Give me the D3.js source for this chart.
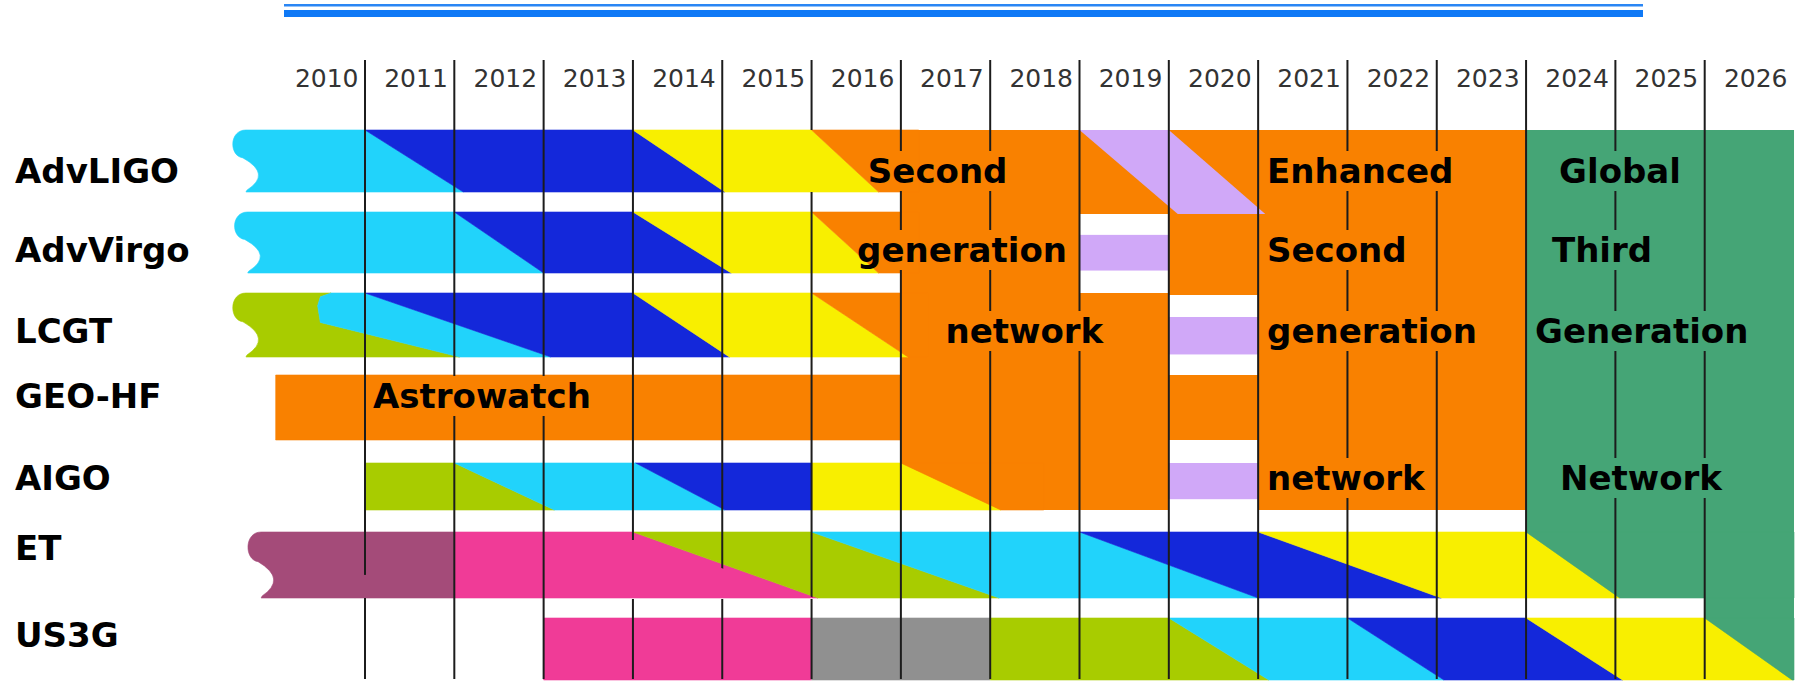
<!DOCTYPE html>
<html><head><meta charset="utf-8">
<script src="https://cdn.jsdelivr.net/npm/d3@7"></script>
<style>html,body{margin:0;padding:0;background:#fff;} svg{display:block;}</style>
</head><body>
<svg id="chart" width="1803" height="683"></svg>
<script>
// ---------------- data ----------------
const years = [2010,2011,2012,2013,2014,2015,2016,2017,2018,2019,2020,2021,2022,2023,2024,2025,2026];
const rows = ["AdvLIGO","AdvVirgo","LCGT","GEO-HF","AIGO","ET","US3G"];
const rowStart = [2009.51, 2009.53, 2009.51, 2010.0, 2011.0, 2009.68, 2013.0];
const rowEnd   = [2017.2, 2017.2, 2017.3, 2017.0, 2018.6, 2027.0, 2027.0];
const rowScroll = [true, true, true, false, false, true, false];

// phase colours per row, and the switches between them ([year at top, year at bottom] or polyline [[year, depth]...])
const advLigoColors  = ["cyan","blue","yellow","orange"];
const advLigoSwitch  = [[2011.0,2012.1],[2014.0,2015.03],[2016.0,2016.75]];
const advVirgoColors = ["cyan","blue","yellow","orange"];
const advVirgoSwitch = [[2012.0,2013.0],[2014.0,2015.1],[2016.0,2016.75]];
const lcgtColors     = ["lime","cyan","blue","yellow","orange"];
const lcgtSwitch     = [[[2010.62,0],[2010.5,0.06],[2010.47,0.2],[2010.5,0.46],[2012.06,1]],[2011.0,2013.08],[2014.0,2015.08],[2016.0,2017.08]];
const geoColors      = ["orange"];
const geoSwitch      = [];
const aigoColors     = ["lime","cyan","blue","yellow","orange"];
const aigoSwitch     = [[2012.0,2013.12],[2014.03,2015.03],[2016.0,2016.0],[2017.0,2018.12]];
const etColors       = ["mauve","pink","lime","cyan","blue","yellow","green"];
const etSwitch       = [[2012.0,2012.0],[2014.0,2016.07],[2016.0,2018.1],[2019.0,2021.0],[2021.0,2023.05],[2024.0,2025.05]];
const us3gColors     = ["pink","gray","lime","cyan","blue","yellow","green"];
const us3gSwitch     = [[2016.0,2016.0],[2018.0,2018.0],[2020.0,2021.12],[2022.0,2023.08],[2024.0,2025.08],[2026.0,2026.98]];

// network blocks
const blockColor = ["orange","green","green"];
const blockFrom  = [2017, 2024, 2026];
const blockTo    = [2024, 2027, 2027];
const blockTopRow = ["AdvLIGO","AdvLIGO","ET"];
const blockBotRow = ["AIGO","ET","US3G"];

// AdvLIGO upgrade (purple) and pauses
const shiftTop = [2019.0, 2020.0];
const shiftBottom = [2020.1, 2021.08];
const pauseRows  = ["AdvVirgo","LCGT","AIGO"];
const pauseYears = [2019, 2020, 2020];

// block texts
const blockLabels    = ["Second","generation","network","Astrowatch","Enhanced","Second","generation","network","Global","Third","Generation","Network"];
const blockLabelRow  = ["AdvLIGO","AdvVirgo","LCGT","GEO-HF","AdvLIGO","AdvVirgo","LCGT","AIGO","AdvLIGO","AdvVirgo","LCGT","AIGO"];
const blockLabelYear = [2016.63,2016.51,2017.5,2011.09,2021.1,2021.1,2021.1,2021.1,2024.37,2024.29,2024.1,2024.38];

// ---------------- style / layout ----------------
const palette = {cyan:"#21d3fb", blue:"#1428da", yellow:"#f8ef00", orange:"#f98100", purple:"#d0a8f8",
  lime:"#a8cc00", mauve:"#a44b79", pink:"#f03b97", gray:"#909090", green:"#45a576"};
const x = d3.scaleLinear().domain([2011, 2026]).range([365, 1704.7]);
const rowTop  = d3.scaleOrdinal().domain(rows).range([130,212,293,375,463,532,618]);
const rowBot  = d3.scaleOrdinal().domain(rows).range([192,273,357,440,510,598,680]);
const rowBase = d3.scaleOrdinal().domain(rows).range([183,262,343,408,490,560,647]);
const boldFont = "'DejaVu Sans', Verdana, sans-serif";

const svg = d3.select("#chart");
const defs = svg.append("defs");

// header double rule
svg.append("rect").attr("x",284).attr("y",4).attr("width",1359).attr("height",2.5).attr("fill","#2a86f4");
svg.append("rect").attr("x",284).attr("y",10).attr("width",1359).attr("height",7).attr("fill","#0f79f6");

// year labels
svg.append("g").selectAll("text").data(years).join("text")
  .attr("x", d => x(d + 1) - 6.5).attr("y", 87)
  .attr("text-anchor","end").attr("font-family","'DejaVu Sans', sans-serif")
  .attr("font-size",25).attr("fill","#333").text(d => String(d));

// row labels
svg.append("g").selectAll("text").data(rows).join("text")
  .attr("x",15).attr("y", d => rowBase(d))
  .attr("font-family", boldFont).attr("font-weight","bold").attr("font-size",34)
  .attr("fill","#000").text(d => d);

// blocks
const gBlocks = svg.append("g");
blockColor.forEach((c,i) => {
  gBlocks.append("rect")
    .attr("x", x(blockFrom[i])).attr("width", x(blockTo[i]) - x(blockFrom[i]))
    .attr("y", rowTop(blockTopRow[i])).attr("height", rowBot(blockBotRow[i]) - rowTop(blockTopRow[i]))
    .attr("fill", palette[c]);
});

// rows
const rowColors = [advLigoColors, advVirgoColors, lcgtColors, geoColors, aigoColors, etColors, us3gColors];
const rowSwitches = [advLigoSwitch, advVirgoSwitch, lcgtSwitch, geoSwitch, aigoSwitch, etSwitch, us3gSwitch];
const norm = sw => Array.isArray(sw[0]) ? sw : [[sw[0],0],[sw[1],1]];

const gRows = svg.append("g");
rows.forEach((r, i) => {
  const T = rowTop(r), B = rowBot(r), h = B - T;
  const Y = f => T + f * h;
  const cols = rowColors[i], sws = rowSwitches[i], n = cols.length;
  cols.forEach((c, j) => {
    const right = j === n - 1 ? [[rowEnd[i],0],[rowEnd[i],1]] : norm(sws[j]);
    const p = d3.path();
    right.forEach((pt,k) => k === 0 ? p.moveTo(x(pt[0]), Y(pt[1])) : p.lineTo(x(pt[0]), Y(pt[1])));
    if (j === 0 && rowScroll[i]) {
      const L = x(rowStart[i]);
      p.lineTo(L + 14, B);
      p.lineTo(L + 15, T + 0.97*h);
      p.quadraticCurveTo(L + 40, T + 0.71*h, L + 11, T + 0.45*h);
      p.bezierCurveTo(L - 3, T + 0.42*h, L - 3, T, L + 14, T);
    } else {
      const left = j === 0 ? [[rowStart[i],0],[rowStart[i],1]] : norm(sws[j-1]);
      left.slice().reverse().forEach(pt => p.lineTo(x(pt[0]), Y(pt[1])));
    }
    p.closePath();
    gRows.append("path").attr("d", p.toString()).attr("fill", palette[c])
      .attr("stroke", palette[c]).attr("stroke-width", 0.6);
  });
});

// pauses (white slot with purple bar)
const gPause = svg.append("g");
pauseRows.forEach((r, k) => {
  const i = rows.indexOf(r), t = rowTop(r), b = rowBot(r), h = b - t;
  let w0, w1, p0, p1;
  if (i === rows.length - 3) { // AIGO: slot opens from the row above
    w0 = rowBot(rows[i-1]); w1 = b; p0 = t; p1 = t + 0.77*h;
  } else {
    w0 = t + 2; w1 = rowTop(rows[i+1]); p0 = t + 0.375*h; p1 = b - 0.04*h;
  }
  const x0 = x(pauseYears[k]), x1 = x(pauseYears[k] + 1);
  gPause.append("rect").attr("x",x0).attr("width",x1-x0).attr("y",w0).attr("height",w1-w0).attr("fill","#fff");
  gPause.append("rect").attr("x",x0).attr("width",x1-x0).attr("y",p0).attr("height",p1-p0).attr("fill",palette.purple);
});

// AdvLIGO upgrade parallelogram
{
  const t = rowTop("AdvLIGO"), b = rowTop("AdvVirgo") + 2;
  const p = d3.path();
  p.moveTo(x(shiftTop[0]), t); p.lineTo(x(shiftTop[1]), t);
  p.lineTo(x(shiftBottom[1]), b); p.lineTo(x(shiftBottom[0]), b); p.closePath();
  svg.append("path").attr("d", p.toString()).attr("fill", palette.purple);
}

// grid lines (masked under block texts and a few overlapping shapes)
const mask = defs.append("mask").attr("id","gridMask").attr("maskUnits","userSpaceOnUse")
  .attr("x",0).attr("y",0).attr("width",1803).attr("height",683);
mask.append("rect").attr("x",0).attr("y",0).attr("width",1803).attr("height",683).attr("fill","#fff");
// AdvLIGO yellow in 2016 hides the 2016 line
mask.append("rect").attr("x", x(2016) - 3).attr("width", 6)
  .attr("y", rowTop("AdvLIGO")).attr("height", rowBot("AdvLIGO") - rowTop("AdvLIGO")).attr("fill","#000");
// ET pink wedge hides the lines beneath it
{
  const T = rowTop("ET"), B = rowBot("ET"), sw = etSwitch[1];
  const p = d3.path();
  p.moveTo(x(sw[0]) - 3, T + 8); p.lineTo(x(sw[0]) + 1, T + 8); p.lineTo(x(sw[1]), B + 1); p.lineTo(x(sw[0]) - 3, B + 1); p.closePath();
  mask.append("path").attr("d", p.toString()).attr("fill","#000");
  mask.append("rect").attr("x", x(2011) - 3).attr("width", 6).attr("y", T + 0.65*(B-T)).attr("height", 0.35*(B-T)).attr("fill","#000");
}
const gGrid = svg.append("g").attr("mask","url(#gridMask)");
gGrid.selectAll("line").data(years.slice(1)).join("line")
  .attr("x1", d => x(d)).attr("x2", d => x(d)).attr("y1", 60).attr("y2", 679)
  .attr("stroke","#1c1c1c").attr("stroke-width",2);

// block texts
const gText = svg.append("g");
const texts = gText.selectAll("text").data(blockLabels).join("text")
  .attr("x", (d,i) => x(blockLabelYear[i])).attr("y", (d,i) => rowBase(blockLabelRow[i]))
  .attr("font-family", boldFont).attr("font-weight","bold").attr("font-size",34)
  .attr("fill","#000").text(d => d);
texts.each(function() {
  const bb = this.getBBox();
  mask.append("rect").attr("x", bb.x - 2).attr("y", bb.y).attr("width", bb.width + 4).attr("height", bb.height).attr("fill","#000");
});
</script>
</body></html>
